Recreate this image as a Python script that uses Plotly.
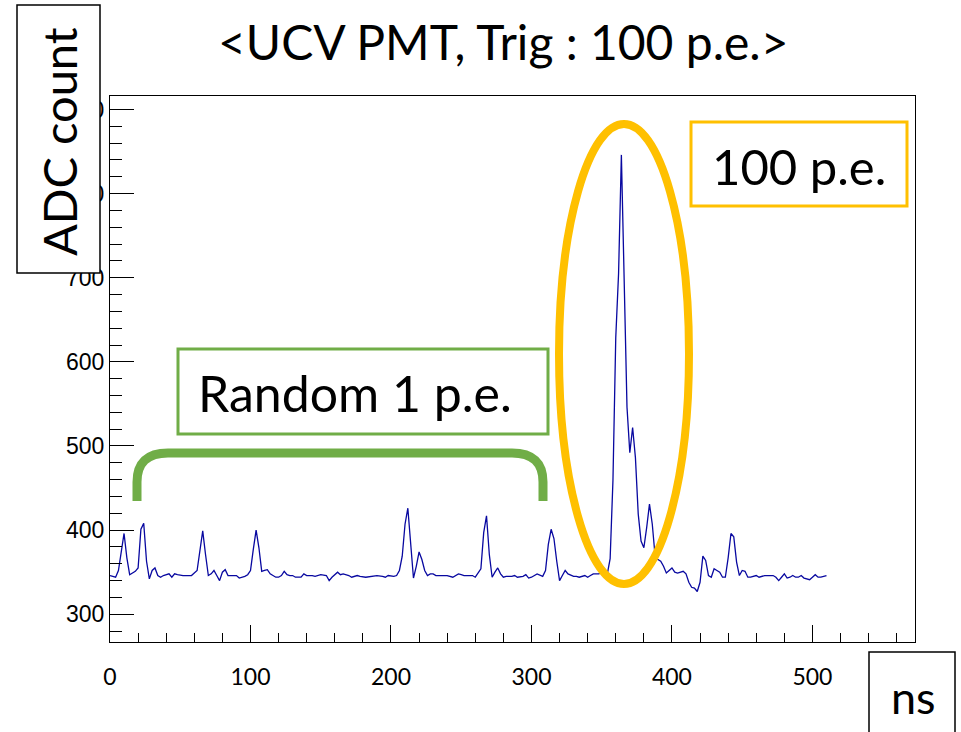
import plotly.graph_objects as go

# ---- data (time in ns, ADC count) ----
time_ns = [0, 4, 6, 8, 10, 12, 14, 18, 20, 22, 24, 26, 28, 30, 32, 34, 36, 38, 42, 44,
           46, 48, 52, 56, 58, 62, 64, 66, 68, 70, 72, 74, 76, 78, 80, 82, 84, 90, 92, 96,
           98, 100, 102, 104, 106, 108, 110, 112, 114, 118, 120, 122, 124, 126, 128, 130, 132, 136, 138, 140,
           142, 144, 146, 148, 150, 154, 156, 158, 162, 164, 166, 170, 172, 176, 178, 182, 186, 190, 194, 196,
           198, 202, 204, 206, 208, 210, 212, 214, 216, 218, 220, 222, 224, 226, 228, 230, 232, 236, 240, 244,
           246, 248, 250, 252, 256, 258, 260, 264, 266, 268, 270, 272, 274, 276, 278, 280, 282, 286, 288, 290,
           294, 296, 298, 300, 304, 308, 310, 312, 314, 316, 318, 320, 322, 324, 326, 330, 332, 334, 338, 340,
           342, 344, 346, 348, 350, 354, 356, 358, 360, 362, 364, 366, 368, 370, 372, 374, 376, 378, 380, 382,
           384, 386, 388, 390, 392, 394, 396, 398, 400, 402, 404, 408, 410, 412, 414, 416, 418, 420, 422, 424,
           426, 428, 430, 432, 434, 436, 438, 440, 442, 444, 446, 448, 450, 452, 454, 456, 460, 462, 466, 470,
           472, 474, 476, 478, 480, 482, 484, 486, 488, 490, 492, 494, 498, 500, 502, 504, 506, 510]
adc = [346, 344, 352, 375, 396, 367, 347, 351, 355, 401, 408, 363, 342, 352, 355, 346, 344, 346, 348, 344,
       348, 347, 346, 346, 346, 352, 377, 399, 371, 346, 348, 352, 346, 340, 350, 353, 346, 346, 343, 345,
       347, 352, 377, 400, 379, 351, 352, 353, 348, 344, 344, 346, 351, 347, 346, 346, 344, 344, 348, 346,
       346, 346, 345, 346, 347, 346, 340, 344, 350, 347, 348, 346, 344, 346, 345, 344, 345, 346, 345, 344,
       346, 345, 346, 352, 369, 407, 426, 387, 343, 357, 374, 365, 352, 346, 348, 348, 346, 346, 346, 344,
       346, 348, 347, 346, 346, 346, 344, 354, 397, 417, 371, 344, 350, 355, 348, 344, 345, 345, 346, 344,
       345, 347, 343, 344, 348, 345, 352, 383, 401, 390, 363, 340, 346, 352, 348, 345, 345, 344, 346, 344,
       346, 348, 348, 348, 350, 348, 366, 459, 629, 705, 846, 697, 546, 492, 522, 486, 419, 387, 379, 403,
       431, 407, 369, 365, 363, 357, 349, 352, 355, 350, 349, 351, 348, 338, 332, 331, 327, 338, 369, 364,
       346, 344, 354, 352, 350, 344, 344, 367, 396, 392, 362, 346, 352, 351, 344, 344, 346, 344, 346, 346,
       346, 344, 340, 344, 348, 343, 344, 346, 344, 344, 346, 343, 341, 344, 347, 344, 344, 346]

x_ticks = [0, 100, 200, 300, 400, 500]
y_ticks = [300, 400, 500, 600, 700, 800, 900]

title_text = "&lt;UCV PMT, Trig : 100 p.e.&gt;"
ylabel_text = "ADC count"
xlabel_text = "ns"
random_text = "Random 1 p.e."
peak_text = "100 p.e."

W, H = 961, 732
L, R, T, B = 110, 46, 96, 90
PW, PH = W - L - R, H - T - B


def px(x):
    return (x - L) / PW


def py(y):
    return (H - B - y) / PH


GREEN = "#70AD47"
ORANGE = "#FFC000"
FONT = "Lato"

fig = go.Figure()
fig.add_trace(go.Scatter(x=time_ns, y=adc, mode="lines",
                         line=dict(color="#0808a0", width=1.3),
                         showlegend=False, hoverinfo="skip"))

fig.update_xaxes(range=[0, 573], showline=True, mirror=True, linecolor="black", linewidth=1,
                 ticks="inside", ticklen=17, tickwidth=1, tickcolor="black",
                 tickvals=x_ticks, ticktext=[str(v) for v in x_ticks],
                 tickfont=dict(family=FONT, size=23, color="black"),
                 ticklabelstandoff=14,
                 minor=dict(dtick=20, tick0=0, ticks="inside", ticklen=9, tickcolor="black", tickwidth=1),
                 showgrid=False, zeroline=False)
fig.update_yaxes(range=[267, 916], showline=True, mirror=True, linecolor="black", linewidth=1,
                 ticks="inside", ticklen=24, tickwidth=1, tickcolor="black",
                 tickvals=y_ticks, ticktext=[str(v) for v in y_ticks],
                 tickfont=dict(family="Liberation Sans", size=23, color="black"),
                 minor=dict(dtick=20, tick0=0, ticks="inside", ticklen=12, tickcolor="black", tickwidth=1),
                 showgrid=False, zeroline=False)

shapes = [
    # ADC count box
    dict(type="rect", xref="paper", yref="paper", x0=px(17), x1=px(100), y0=py(273), y1=py(5),
         line=dict(color="black", width=1.5), fillcolor="white", layer="above"),
    # ns box
    dict(type="rect", xref="paper", yref="paper", x0=px(869), x1=px(955), y0=py(745), y1=py(652),
         line=dict(color="black", width=1.5), fillcolor="white", layer="above"),
    # green text box
    dict(type="rect", xref="paper", yref="paper", x0=px(178), x1=px(548), y0=py(434), y1=py(349),
         line=dict(color=GREEN, width=3), fillcolor="white", layer="above"),
    # green bracket
    dict(type="path", xref="paper", yref="paper",
         path=(f"M {px(137)},{py(501)} L {px(137)},{py(482)} "
               f"Q {px(137)},{py(453)} {px(168)},{py(453)} "
               f"L {px(512)},{py(453)} "
               f"Q {px(543)},{py(453)} {px(543)},{py(482)} "
               f"L {px(543)},{py(501)}"),
         line=dict(color=GREEN, width=9), layer="above"),
    # orange ellipse
    dict(type="circle", xref="paper", yref="paper", x0=px(559), x1=px(689), y0=py(584), y1=py(124),
         line=dict(color=ORANGE, width=8), layer="above"),
    # orange text box
    dict(type="rect", xref="paper", yref="paper", x0=px(691), x1=px(907), y0=py(206), y1=py(122),
         line=dict(color=ORANGE, width=3), fillcolor="white", layer="above"),
]

annotations = [
    dict(text=title_text, xref="paper", yref="paper", x=px(503), y=py(42), xanchor="center",
         yanchor="middle", showarrow=False, font=dict(family=FONT, size=48, color="black")),
    dict(text=ylabel_text, xref="paper", yref="paper", x=px(59), y=py(142), xanchor="center",
         yanchor="middle", showarrow=False, textangle=-90,
         font=dict(family=FONT, size=47, color="black")),
    dict(text=xlabel_text, xref="paper", yref="paper", x=px(913), y=py(697), xanchor="center",
         yanchor="middle", showarrow=False, font=dict(family=FONT, size=45, color="black")),
    dict(text=random_text, xref="paper", yref="paper", x=px(355), y=py(393), xanchor="center",
         yanchor="middle", showarrow=False, font=dict(family=FONT, size=50, color="black")),
    dict(text=peak_text, xref="paper", yref="paper", x=px(799), y=py(166), xanchor="center",
         yanchor="middle", showarrow=False, font=dict(family=FONT, size=49, color="black")),
]

fig.update_layout(width=W, height=H, autosize=False,
                  margin=dict(l=L, r=R, t=T, b=B, pad=0),
                  paper_bgcolor="white", plot_bgcolor="white",
                  shapes=shapes, annotations=annotations,
                  font=dict(family=FONT, color="black"))

fig.write_html("out.html")
